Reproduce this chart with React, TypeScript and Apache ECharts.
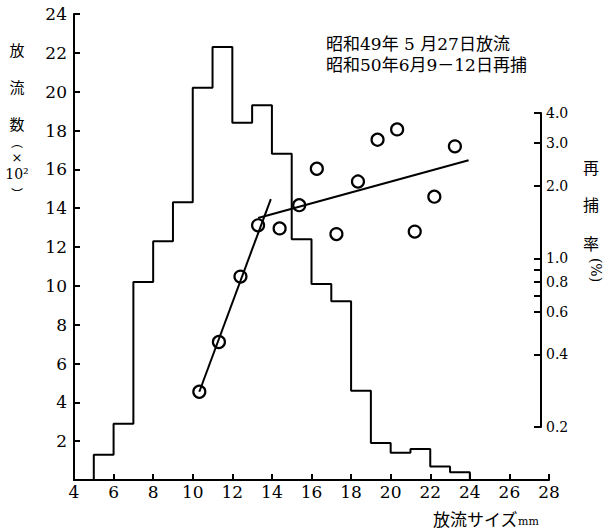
import React, { useEffect, useRef } from "react";
import * as echarts from "echarts";

// Released fish per 1 mm size class (x 10^2)
const sizeBinStarts = [5, 6, 7, 8, 9, 10, 11, 12, 13, 14, 15, 16, 17, 18, 19, 20, 21, 22, 23];
const releasedCounts = [1.3, 2.9, 10.2, 12.3, 14.3, 20.2, 22.3, 18.4, 19.3, 16.8, 12.4, 10.1, 9.2, 4.6, 1.9, 1.4, 1.6, 0.7, 0.4];
const binWidth = 1;

// Recapture rate (%) by release size (mm)
const recaptureSizes = [10.4, 11.4, 12.5, 13.4, 14.5, 15.5, 16.4, 17.4, 18.5, 19.5, 20.5, 21.4, 22.4, 23.45];
const recaptureRates = [0.28, 0.45, 0.84, 1.37, 1.33, 1.66, 2.35, 1.26, 2.08, 3.1, 3.42, 1.29, 1.8, 2.91];

// Fitted lines
const smallFitX = [10.4, 14.05];
const smallFitY = [0.28, 1.76];
const largeFitX = [13.4, 24.15];
const largeFitY = [1.47, 2.55];

// Axis values
const countRange = [0, 24];
const countLabelValues = [2, 4, 6, 8, 10, 12, 14, 16, 18, 20, 22, 24];
const sizeRange = [4, 28];
const rateLabelValues = [0.2, 0.4, 0.6, 0.8, 1.0, 2.0, 3.0, 4.0];
const rateTickValues = [0.2, 0.4, 0.6, 0.7, 0.8, 0.9, 1.0, 2.0, 3.0, 4.0];

const note1 = "昭和49年 5 月27日放流";
const note2 = "昭和50年6月9－12日再捕";

const log = (v: number) => Math.log10(v);
const SERIF = "DejaVu Serif, Noto Sans CJK JP, serif";
const CJK = "Noto Sans CJK JP, DejaVu Serif, sans-serif";

export default function App() {
  const ref = useRef<HTMLDivElement>(null);
  useEffect(() => {
    if (!ref.current) return;
    const chart = echarts.init(ref.current, undefined, { renderer: "svg" });
    const black = "#000";

    const histData: number[][] = [[sizeBinStarts[0], 0]];
    sizeBinStarts.forEach((x, i) => histData.push([x, releasedCounts[i]]));
    histData.push([sizeBinStarts[sizeBinStarts.length - 1] + binWidth, 0]);

    const leftChars = [
      { t: "放", y: 49, f: 15, ff: CJK },
      { t: "流", y: 86, f: 15, ff: CJK },
      { t: "数", y: 123, f: 15, ff: CJK },
      { t: "︵", y: 141, f: 12, ff: CJK },
      { t: "×", y: 157, f: 13, ff: SERIF },
      { t: "10²", y: 174, f: 14, ff: SERIF },
      { t: "︶", y: 193, f: 12, ff: CJK },
    ];
    const rightChars = [
      { t: "再", y: 167 },
      { t: "捕", y: 204 },
      { t: "率", y: 243 },
    ];

    const mkTitle = (text: string, x: number, y: number, fontSize: number, fontFamily: string, align: string) => ({
      text,
      left: x,
      top: y,
      padding: 0,
      textAlign: align,
      textVerticalAlign: "middle",
      textStyle: { fontSize, fontFamily, color: black, fontWeight: "normal" },
    });

    const titles: any[] = [];
    leftChars.forEach((c) => titles.push(mkTitle(c.t, 17, c.y, c.f, c.ff, "center")));
    rightChars.forEach((c) => titles.push(mkTitle(c.t, 591, c.y, 16, CJK, "center")));
    titles.push(mkTitle(note1, 326, 44, 17, SERIF, "left"));
    titles.push(mkTitle(note2, 326, 65, 17, SERIF, "left"));
    titles.push({
      text: "{a|放流サイズ}{b|mm}",
      left: 433,
      top: 518,
      padding: 0,
      textAlign: "left",
      textVerticalAlign: "middle",
      textStyle: {
        fontWeight: "normal",
        rich: {
          a: { fontSize: 17, fontFamily: CJK, color: black },
          b: { fontSize: 11, fontFamily: SERIF, color: black, verticalAlign: "bottom" },
        },
      },
    });

    const option: any = {
      animation: false,
      backgroundColor: "#fff",
      title: titles,
      grid: [
        { left: 74, right: 62, top: 14, bottom: 50 },
        { left: 74, right: 62, top: 113, bottom: 103 },
      ],
      xAxis: [
        {
          gridIndex: 0,
          type: "value",
          min: sizeRange[0],
          max: sizeRange[1],
          interval: 2,
          axisLine: { show: true, lineStyle: { color: black, width: 2 } },
          axisTick: { show: true, inside: true, length: 6, lineStyle: { color: black, width: 2 } },
          axisLabel: { color: black, fontFamily: SERIF, fontSize: 17, margin: 3 },
          splitLine: { show: false },
        },
        { gridIndex: 1, type: "value", min: sizeRange[0], max: sizeRange[1], show: false },
      ],
      yAxis: [
        {
          gridIndex: 0,
          type: "value",
          min: countRange[0],
          max: countRange[1],
          interval: 2,
          axisLine: { show: true, onZero: false, lineStyle: { color: black, width: 2 } },
          axisTick: { show: true, inside: true, length: 6, lineStyle: { color: black, width: 2 } },
          axisLabel: {
            color: black,
            fontFamily: SERIF,
            fontSize: 17,
            margin: 7,
            customValues: countLabelValues,
          },
          splitLine: { show: false },
        },
        {
          gridIndex: 1,
          type: "value",
          position: "right",
          offset: -3,
          min: log(rateLabelValues[0]),
          max: log(rateLabelValues[rateLabelValues.length - 1]),
          name: "(%)",
          nameLocation: "middle",
          nameRotate: -90,
          nameGap: 48,
          nameTextStyle: { fontSize: 14, fontFamily: SERIF, color: black },
          axisLine: { show: true, onZero: false, lineStyle: { color: black, width: 2 } },
          axisTick: {
            show: true,
            inside: true,
            length: 7,
            customValues: rateTickValues.map(log),
            lineStyle: { color: black, width: 2 },
          },
          axisLabel: {
            color: black,
            fontFamily: SERIF,
            fontSize: 14,
            margin: 5,
            customValues: rateLabelValues.map(log),
            formatter: (v: number) => Math.pow(10, v).toFixed(1),
          },
          splitLine: { show: false },
        },
      ],
      series: [
        {
          type: "line",
          xAxisIndex: 0,
          yAxisIndex: 0,
          step: "end",
          data: histData,
          symbol: "none",
          lineStyle: { color: black, width: 2 },
        },
        {
          type: "line",
          xAxisIndex: 1,
          yAxisIndex: 1,
          data: smallFitX.map((x, i) => [x, log(smallFitY[i])]),
          symbol: "none",
          lineStyle: { color: black, width: 2 },
        },
        {
          type: "line",
          xAxisIndex: 1,
          yAxisIndex: 1,
          data: largeFitX.map((x, i) => [x, log(largeFitY[i])]),
          symbol: "none",
          lineStyle: { color: black, width: 2 },
        },
        {
          type: "scatter",
          xAxisIndex: 1,
          yAxisIndex: 1,
          data: recaptureSizes.map((x, i) => [x, log(recaptureRates[i])]),
          symbol: "circle",
          symbolSize: 12,
          itemStyle: { color: "#fff", borderColor: black, borderWidth: 2.2, opacity: 1 },
        },
      ],
    };
    chart.setOption(option);
    return () => chart.dispose();
  }, []);
  return <div ref={ref} style={{ position: "absolute", left: 0, top: 0, width: 611, height: 530, background: "#fff" }} />;
}
